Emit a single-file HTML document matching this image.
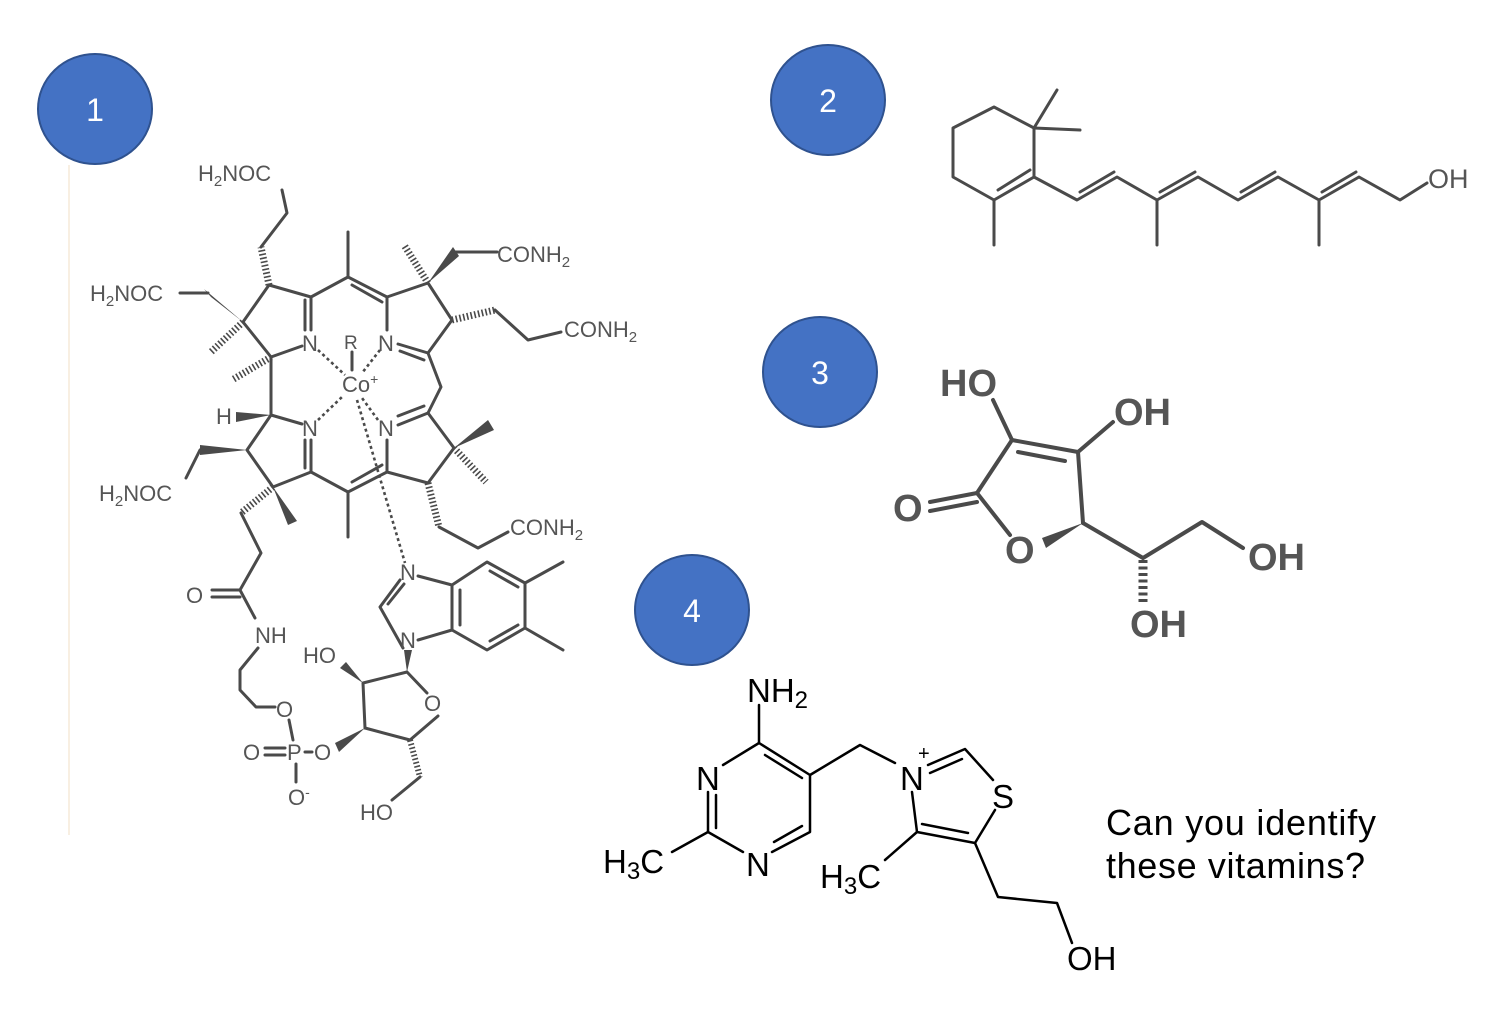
<!DOCTYPE html>
<html><head><meta charset="utf-8"><style>
html,body{margin:0;padding:0;background:#fff;}
svg{display:block;}
.g{stroke:#4a4a4a;stroke-width:3;fill:none;stroke-linecap:round;stroke-linejoin:round;}
.k{stroke:#000;stroke-width:2.5;fill:none;stroke-linecap:round;stroke-linejoin:round;}
.h{stroke:#4a4a4a;stroke-width:7;fill:none;stroke-dasharray:1.6 2.2;}
.dt{stroke:#4a4a4a;stroke-width:2.6;fill:none;stroke-dasharray:3 3;}
.w{fill:#4a4a4a;stroke:none;}
.t1{font-family:"Liberation Sans",sans-serif;font-size:22px;fill:#555;}
.t3{font-family:"Liberation Sans",sans-serif;font-size:38px;font-weight:bold;fill:#555;}
.t4{font-family:"Liberation Sans",sans-serif;font-size:33px;fill:#000;}
.num{font-family:"Liberation Sans",sans-serif;font-size:32px;fill:#fff;}
.bg{fill:#fff;stroke:none;}
</style></head><body>
<svg width="1500" height="1018" viewBox="0 0 1500 1018" xmlns="http://www.w3.org/2000/svg">
<line x1="69" y1="165" x2="69" y2="835" stroke="#f6ead8" stroke-width="1.5"/>

<!-- circles -->
<ellipse cx="95" cy="109" rx="57" ry="55" fill="#4472C4" stroke="#2F528F" stroke-width="2"/>
<text x="95" y="121" class="num" text-anchor="middle">1</text>
<ellipse cx="828" cy="100" rx="57" ry="55" fill="#4472C4" stroke="#2F528F" stroke-width="2"/>
<text x="828" y="112" class="num" text-anchor="middle">2</text>
<ellipse cx="820" cy="372" rx="57" ry="55" fill="#4472C4" stroke="#2F528F" stroke-width="2"/>
<text x="820" y="384" class="num" text-anchor="middle">3</text>
<ellipse cx="692" cy="610" rx="57" ry="55" fill="#4472C4" stroke="#2F528F" stroke-width="2"/>
<text x="692" y="622" class="num" text-anchor="middle">4</text>

<!-- ===== Vitamin B12 ===== -->
<g class="g">
<!-- ring A -->
<polyline points="311,297 269,285 243,322 271,357 302,346"/>
<line x1="311" y1="297" x2="311" y2="330"/><line x1="305" y1="300" x2="305" y2="330"/>
<!-- meso top -->
<polyline points="311,297 348,277 387,297"/>
<line x1="352" y1="285" x2="382" y2="302"/>
<line x1="348" y1="277" x2="348" y2="232"/>
<!-- ring B -->
<polyline points="387,297 428,283 452,320 428,353 398,344"/>
<line x1="387" y1="297" x2="387" y2="330"/>
<line x1="424" y1="360" x2="400" y2="351"/>
<polyline points="428,353 441,387 428,413"/>
<!-- ring C -->
<polyline points="428,413 454,448 428,483 387,472 387,440"/>
<line x1="428" y1="413" x2="398" y2="425"/><line x1="424" y1="406" x2="398" y2="416"/>
<!-- meso bottom -->
<polyline points="387,472 348,492 311,472"/>
<line x1="382" y1="465" x2="352" y2="482"/>
<line x1="348" y1="492" x2="348" y2="537"/>
<!-- ring D -->
<polyline points="311,472 273,487 247,450 271,415 302,424"/>
<line x1="311" y1="472" x2="311" y2="440"/><line x1="305" y1="468" x2="305" y2="440"/>
<line x1="271" y1="357" x2="271" y2="415"/>
<!-- substituents -->
<polyline points="261,247 287,213 282,190"/>
<line x1="180" y1="293" x2="208" y2="293"/>
<polyline points="456,252 497,252"/>
<polyline points="495,310 528,340 561,332"/>
<polyline points="200,450 186,478"/>
<polyline points="241,513 261,553 240,590 255,618"/>
<polyline points="439,527 478,548 508,532"/>
<line x1="352" y1="352" x2="352" y2="370"/>
</g>
<!-- hashed -->
<line class="h" x1="269" y1="285" x2="261" y2="247"/>
<line class="h" x1="243" y1="322" x2="211" y2="352"/>
<line class="h" x1="271" y1="357" x2="232" y2="380"/>
<line class="h" x1="428" y1="283" x2="404" y2="245"/>
<line class="h" x1="452" y1="320" x2="495" y2="310"/>
<line class="h" x1="273" y1="487" x2="241" y2="513"/>
<line class="h" x1="454" y1="448" x2="486" y2="482"/>
<line class="h" x1="428" y1="483" x2="439" y2="527"/>
<!-- wedges -->
<polygon class="w" points="243,322 204,289 211,297"/>
<polygon class="w" points="428,283 453,247 459,256"/>
<polygon class="w" points="271,415 236,412 236,422"/>
<polygon class="w" points="247,450 200,445 200,455"/>
<polygon class="w" points="273,487 288,525 297,521"/>
<polygon class="w" points="454,448 488,420 494,430"/>
<!-- dotted Co -->
<line class="dt" x1="318" y1="350" x2="345" y2="375"/>
<line class="dt" x1="380" y1="350" x2="362" y2="373"/>
<line class="dt" x1="318" y1="420" x2="343" y2="396"/>
<line class="dt" x1="378" y1="420" x2="362" y2="398"/>
<line class="dt" x1="357" y1="400" x2="405" y2="563"/>
<!-- labels -->
<g class="t1">
<text x="198" y="181">H<tspan font-size="15" dy="5">2</tspan><tspan dy="-5">NOC</tspan></text>
<text x="90" y="301">H<tspan font-size="15" dy="5">2</tspan><tspan dy="-5">NOC</tspan></text>
<text x="99" y="501">H<tspan font-size="15" dy="5">2</tspan><tspan dy="-5">NOC</tspan></text>
<text x="497" y="262">CONH<tspan font-size="15" dy="5">2</tspan></text>
<text x="564" y="337">CONH<tspan font-size="15" dy="5">2</tspan></text>
<text x="510" y="535">CONH<tspan font-size="15" dy="5">2</tspan></text>
<text x="302" y="351">N</text><text x="378" y="351">N</text>
<text x="302" y="436">N</text><text x="378" y="436">N</text>
<text x="344" y="349" font-size="19">R</text>
<text x="342" y="392">Co<tspan font-size="14" dy="-8">+</tspan></text>
<text x="216" y="424">H</text>
</g>
<!-- lower part B12 -->
<g class="g">
<line x1="240" y1="590" x2="212" y2="590"/><line x1="240" y1="597" x2="212" y2="597"/>
<polyline points="258,648 240,670 240,690 256,707 275,707"/>
<line x1="289" y1="720" x2="293" y2="740"/>
<line x1="265" y1="748" x2="285" y2="748"/><line x1="265" y1="755" x2="285" y2="755"/>
<line x1="305" y1="752" x2="312" y2="752"/>
<line x1="296" y1="764" x2="296" y2="782"/>
<polyline points="365,728 363,683 407,672 427,693"/>
<polyline points="438,716 410,740 365,728"/>
<polyline points="420,777 392,800"/>
<!-- imidazole -->
<polyline points="403,648 380,607 400,580"/>
<line x1="388" y1="604" x2="404" y2="584"/>
<polyline points="418,576 452,585 487,562 525,583 525,628 487,650 452,630 418,640"/>
<line x1="452" y1="585" x2="452" y2="630"/>
<line x1="460" y1="590" x2="460" y2="625"/>
<line x1="490" y1="571" x2="518" y2="587"/>
<line x1="490" y1="641" x2="518" y2="625"/>
<line x1="525" y1="583" x2="563" y2="562"/>
<line x1="525" y1="628" x2="563" y2="650"/>
</g>
<polygon class="w" points="365,728 335,743 339,752"/>
<polygon class="w" points="363,683 340,668 346,662"/>
<polygon class="w" points="407,672 404,650 412,650"/>
<line class="h" x1="410" y1="740" x2="420" y2="777" style="stroke-width:6"/>
<g class="t1">
<text x="186" y="603">O</text>
<text x="255" y="643">NH</text>
<text x="303" y="663">HO</text>
<text x="276" y="717">O</text>
<text x="243" y="760">O</text>
<text x="287" y="760">P</text>
<text x="314" y="760">O</text>
<text x="288" y="805">O<tspan font-size="14" dy="-8">-</tspan></text>
<text x="424" y="711">O</text>
<text x="360" y="820">HO</text>
<text x="400" y="580">N</text>
<text x="400" y="648">N</text>
</g>

<!-- ===== Vitamin A ===== -->
<g class="g">
<polygon points="953,128 994,107 1034,128 1034,177 994,200 953,177"/>
<line x1="998" y1="190" x2="1030" y2="170"/>
<line x1="994" y1="200" x2="994" y2="245"/>
<line x1="1034" y1="128" x2="1057" y2="90"/>
<line x1="1034" y1="128" x2="1080" y2="130"/>
<polyline points="1034,177 1077,200 1117,177 1157,200 1198,177 1238,200 1278,177 1319,200 1359,177 1400,200 1427,183"/>
<line x1="1080" y1="192" x2="1114" y2="172"/>
<line x1="1160" y1="192" x2="1195" y2="172"/>
<line x1="1241" y1="192" x2="1275" y2="172"/>
<line x1="1322" y1="192" x2="1356" y2="172"/>
<line x1="1157" y1="200" x2="1157" y2="245"/>
<line x1="1319" y1="200" x2="1319" y2="245"/>
</g>
<text x="1428" y="188" class="t1" style="font-size:27px">OH</text>

<!-- ===== Vitamin C ===== -->
<g class="g" style="stroke-width:4">
<line x1="993" y1="400" x2="1012" y2="440"/>
<polyline points="1012,440 1078,452 1083,523"/>
<line x1="1018" y1="452" x2="1065" y2="461"/>
<polyline points="1012,440 977,493 1010,535"/>
<line x1="930" y1="502" x2="977" y2="493"/><line x1="930" y1="511" x2="977" y2="502"/>
<line x1="1078" y1="452" x2="1113" y2="422"/>
<polyline points="1083,523 1143,558 1202,522 1243,548"/>
</g>
<polygon class="w" points="1083,523 1042,538 1046,548"/>
<line class="h" x1="1143" y1="560" x2="1143" y2="603" style="stroke-width:9;stroke-dasharray:3 3.5"/>
<g class="t3">
<text x="940" y="396">HO</text>
<text x="1114" y="425">OH</text>
<text x="893" y="521">O</text>
<text x="1005" y="563">O</text>
<text x="1248" y="570">OH</text>
<text x="1130" y="637">OH</text>
</g>

<!-- ===== Vitamin B1 ===== -->
<g class="k">
<line x1="759" y1="705" x2="759" y2="743"/>
<polyline points="723,765 759,743 810,775 810,832 772,852"/>
<line x1="765" y1="755" x2="802" y2="778"/>
<line x1="802" y1="826" x2="774" y2="842"/>
<polyline points="743,852 708,832 708,792"/>
<line x1="716" y1="828" x2="716" y2="795"/>
<line x1="672" y1="852" x2="708" y2="832"/>
<polyline points="810,775 860,745 895,763"/>
<polyline points="928,765 965,749 993,780"/>
<line x1="930" y1="773" x2="962" y2="759"/>
<polyline points="995,810 975,843 917,832 912,792"/>
<line x1="922" y1="824" x2="968" y2="833"/>
<line x1="885" y1="860" x2="917" y2="832"/>
<polyline points="975,843 998,897 1057,903 1072,943"/>
</g>
<g class="t4">
<text x="747" y="702">NH<tspan font-size="24" dy="6">2</tspan></text>
<text x="696" y="790">N</text>
<text x="746" y="876">N</text>
<text x="603" y="873">H<tspan font-size="24" dy="6">3</tspan><tspan dy="-6">C</tspan></text>
<text x="900" y="790">N</text>
<text x="918" y="760" font-size="20">+</text>
<text x="992" y="808">S</text>
<text x="820" y="888">H<tspan font-size="24" dy="6">3</tspan><tspan dy="-6">C</tspan></text>
<text x="1067" y="970">OH</text>
</g>

<g style="font-family:'Liberation Sans',sans-serif;font-size:36px;fill:#000">
<text x="1106" y="835" textLength="270">Can you identify</text>
<text x="1106" y="878" textLength="259">these vitamins?</text>
</g>
</svg>
</body></html>
